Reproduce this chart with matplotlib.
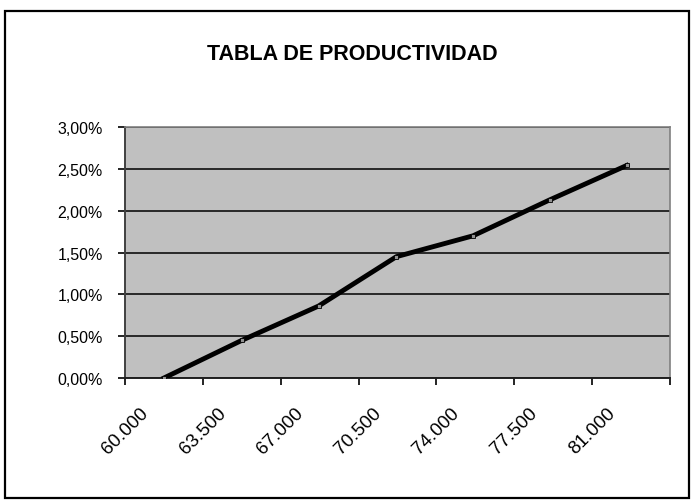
import numpy as np
import matplotlib
matplotlib.use('Agg')
import matplotlib.pyplot as plt
from matplotlib.patches import Rectangle

# values
ingresos = [61750, 65250, 68700, 72200, 75650, 79100, 82550]
productividad = [0.00, 0.45, 0.86, 1.45, 1.70, 2.13, 2.54]

x_ticks = [60000, 63500, 67000, 70500, 74000, 77500, 81000, 84500]
x_labels = ['60.000', '63.500', '67.000', '70.500', '74.000', '77.500', '81.000', '']
y_ticks = [0.0, 0.5, 1.0, 1.5, 2.0, 2.5, 3.0]
y_labels = ['0,00%', '0,50%', '1,00%', '1,50%', '2,00%', '2,50%', '3,00%']

plt.rcParams['font.family'] = ['Liberation Sans', 'DejaVu Sans']

W, H = 692, 502
fig = plt.figure(figsize=(W / 100, H / 100), dpi=100)

# outer chart frame
fig.patches.append(Rectangle((5 / W, 1 - 499 / H), 684 / W, 487 / H,
                             transform=fig.transFigure, fill=False,
                             edgecolor='black', linewidth=1.6))

fig.text(352 / W, 1 - 55 / H, 'TABLA DE PRODUCTIVIDAD', ha='center', va='center',
         fontsize=15.5, fontweight='bold')

ax = fig.add_axes([125 / W, 1 - 379 / H, 545 / W, 251 / H])
ax.set_facecolor('#c0c0c0')

ax.plot(ingresos, productividad, color='black', linewidth=3.5, marker='s',
        markersize=3.5, markerfacecolor='#909090', markeredgecolor='black',
        markeredgewidth=0.6, zorder=3)

ax.set_xlim(60000, 84500)
ax.set_ylim(0, 3.0)
ax.set_xticks(x_ticks)
ax.set_xticklabels(x_labels, rotation=45, ha='center', fontsize=13.5)
ax.set_yticks(y_ticks)
ax.set_yticklabels(y_labels, fontsize=11.5)

ax.yaxis.grid(True, color='black', linewidth=1.1)
ax.set_axisbelow(True)

for s in ['top', 'right']:
    ax.spines[s].set_color('#808080')
    ax.spines[s].set_linewidth(1.2)
ax.spines['left'].set_color('#404040')
ax.spines['left'].set_linewidth(1.4)
ax.spines['bottom'].set_color('#202020')
ax.spines['bottom'].set_linewidth(1.4)

ax.tick_params(axis='y', direction='out', length=5, width=1.2, pad=11)
ax.tick_params(axis='x', direction='out', length=5, width=1.2, pad=14)

fig.savefig('out.png', dpi=100)
